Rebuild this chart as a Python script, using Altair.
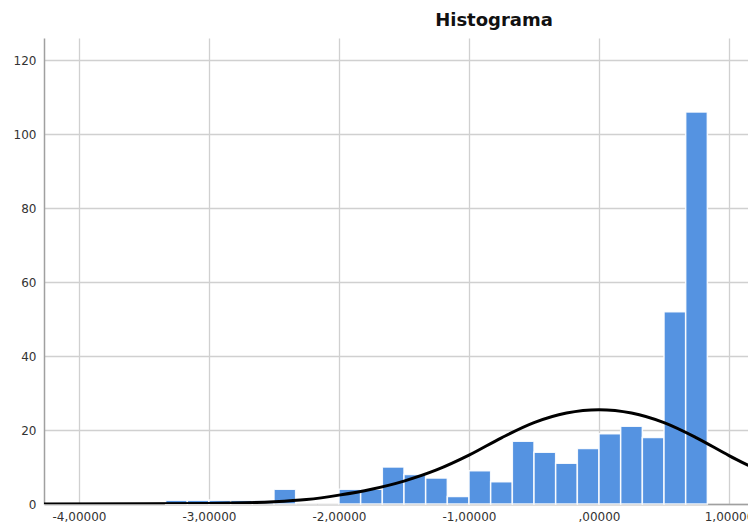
import altair as alt
import pandas as pd

# Histogram bins (lower edge of first bin and bin width, in x-axis units)
bin_start = -10 / 3
bin_width = 1 / 6
counts = [1, 1, 1, 1, 1, 4, 0, 0, 4, 4, 10, 8, 7, 2, 9, 6, 17, 14, 11, 15, 19, 21, 18, 52, 106]

# Normal curve
curve_x = [-4.27, -3.5, -3.0, -2.5, -2.25, -2.0, -1.75, -1.5, -1.25, -1.0, -0.75,
           -0.5, -0.25, 0.0, 0.25, 0.5, 0.75, 1.0, 1.15]
curve_y = [0.0, 0.05, 0.15, 0.6, 1.2, 2.4, 4.0, 6.2, 9.2, 13.2, 17.9,
           22.0, 24.6, 25.5, 24.6, 22.0, 17.9, 13.1, 10.4]

x_ticks = [-4, -3, -2, -1, 0, 1]
y_ticks = [0, 20, 40, 60, 80, 100, 120]

bars_df = pd.DataFrame({
    "x0": [bin_start + i * bin_width for i in range(len(counts))],
    "x1": [bin_start + (i + 1) * bin_width for i in range(len(counts))],
    "count": counts,
    "base": [0] * len(counts),
})
curve_df = pd.DataFrame({"x": curve_x, "y": curve_y})

x_scale = alt.Scale(domain=[-4.269, 1.146], nice=False, zero=False)
y_scale = alt.Scale(domain=[0, 126], nice=False)

label_expr = ("abs(datum.value) < 1e-9 ? ',00000' : "
              "replace(replace(format(datum.value, '.5f'), '.', ','), '\u2212', '-')")

x_axis = alt.Axis(values=x_ticks, labelExpr=label_expr, title=None, grid=True,
                  ticks=False, labelPadding=7)
y_axis = alt.Axis(values=y_ticks, title=None, grid=True, ticks=False, labelPadding=8)

bars = alt.Chart(bars_df).mark_bar(
    color="#5593e1", stroke="white", strokeWidth=1.5, strokeOpacity=0.9
).encode(
    x=alt.X("x0:Q", scale=x_scale, axis=x_axis),
    x2="x1:Q",
    y=alt.Y("count:Q", scale=y_scale, axis=y_axis),
    y2="base:Q",
)

curve = alt.Chart(curve_df).mark_line(
    color="black", strokeWidth=3, interpolate="monotone", clip=True
).encode(
    x=alt.X("x:Q", scale=x_scale),
    y=alt.Y("y:Q", scale=y_scale),
)

chart = alt.layer(bars, curve).properties(
    width=704,
    height=466,
    autosize="none",
    padding={"left": 36, "top": 30, "right": 0, "bottom": 26},
    title=alt.TitleParams("Histograma", font="DejaVu Sans", fontSize=18,
                          fontWeight="bold", color="#111111", anchor="middle",
                          dx=98, offset=8),
).configure_view(stroke=None).configure_axis(
    gridColor="#d0d0d0", gridWidth=1.3, domainColor="#a0a0a0", domainWidth=1.5,
    labelFont="DejaVu Sans", labelFontSize=12, labelColor="#333333",
)

chart.save("out.html", embed_options={"renderer": "svg", "actions": False})
